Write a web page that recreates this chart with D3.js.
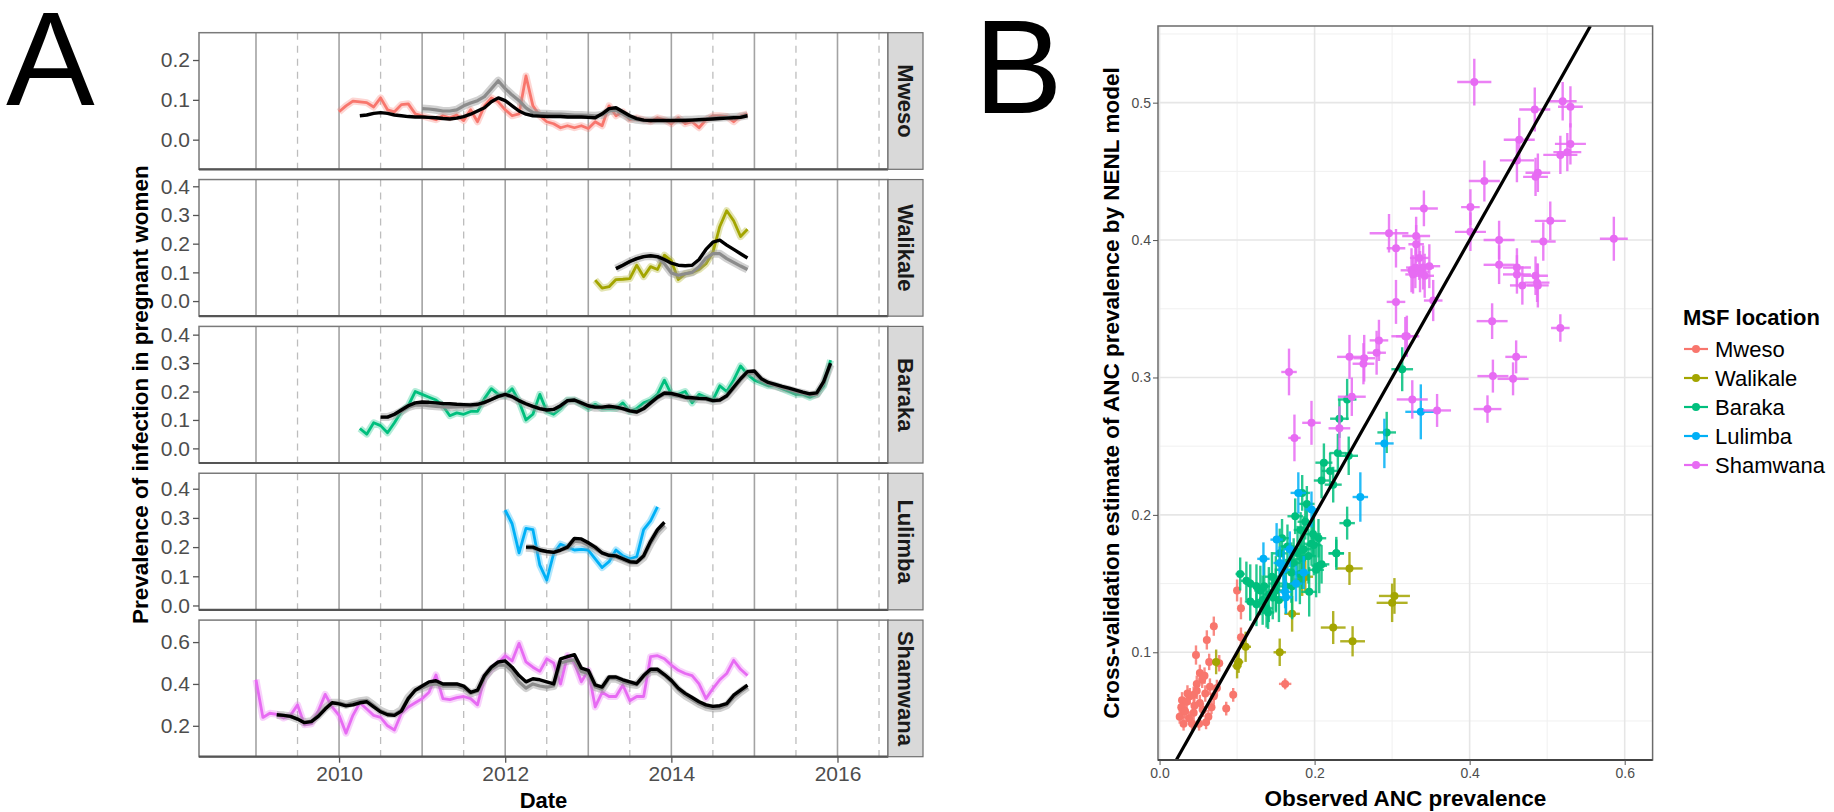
<!DOCTYPE html>
<html>
<head>
<meta charset="utf-8">
<script src="https://cdn.jsdelivr.net/npm/d3@7"></script>
<style>
  html, body { margin: 0; padding: 0; background: #fff; }
  svg { display: block; font-family: "Liberation Sans", Arial, Helvetica, sans-serif; }
</style>
</head>
<body>
<svg id="fig" width="1834" height="812"></svg>
<script>
// ---------- shared categories ----------
const locations = ["Mweso", "Walikale", "Baraka", "Lulimba", "Shamwana"];
const locColors = ["#F8766D", "#A3A500", "#00BF7D", "#00B0F6", "#E76BF3"];

// ---------- panel A: monthly prevalence series ----------
// each series: first month [year, month] and the monthly values that follow
const mwesoObsStart = [2010, 1];
const mwesoObs = [0.070,0.085,0.097,0.095,0.093,0.082,0.105,0.075,0.070,0.088,0.090,0.065,
                  0.060,0.055,0.050,0.060,0.055,0.062,0.048,0.075,0.045,0.085,0.105,0.095,
                  0.075,0.060,0.065,0.160,0.085,0.060,0.045,0.040,0.030,0.035,0.030,0.035,
                  0.028,0.045,0.035,0.085,0.060,0.070,0.050,0.055,0.050,0.045,0.055,0.050,
                  0.040,0.055,0.040,0.045,0.030,0.050,0.060,0.060,0.058,0.045,0.060,0.065];
const mwesoGreyStart = [2011, 1];
const mwesoGrey = [0.078,0.077,0.075,0.072,0.072,0.075,0.085,0.092,0.098,0.108,0.128,0.148,
                   0.128,0.112,0.098,0.080,0.068,0.066,0.065,0.064,0.064,0.063,0.062,0.062,
                   0.061,0.060,0.062,0.072,0.074,0.064,0.054,0.050,0.048,0.048,0.048,0.048,
                   0.048,0.049,0.050,0.050,0.051,0.052,0.054,0.055,0.056,0.057,0.058,0.061];
const mwesoFitStart = [2010, 4];
const mwesoFit = [0.060,0.062,0.066,0.068,0.066,0.062,0.060,0.058,0.057,
                  0.057,0.056,0.055,0.053,0.052,0.054,0.058,0.064,0.072,0.080,0.095,0.105,
                  0.098,0.085,0.072,0.064,0.060,0.059,0.058,0.058,0.058,0.057,0.057,0.057,
                  0.056,0.055,0.065,0.078,0.080,0.070,0.060,0.053,0.049,0.048,0.048,0.048,
                  0.048,0.048,0.048,0.049,0.050,0.051,0.052,0.053,0.054,0.055,0.056,0.060];

const walikaleObsStart = [2013, 2];
const walikaleObs = [0.073,0.045,0.050,0.075,0.076,0.078,0.125,0.085,0.120,0.110,0.160,
                     0.140,0.075,0.095,0.100,0.110,0.130,0.170,0.260,0.315,0.280,0.225,0.250];
const walikaleGreyStart = [2013, 5];
const walikaleGrey = [0.113,0.125,0.138,0.148,0.155,0.157,0.153,0.130,
                      0.098,0.090,0.095,0.100,0.120,0.150,0.165,0.165,0.148,0.135,0.122,0.110];
const walikaleFitStart = [2013, 5];
const walikaleFit = [0.113,0.125,0.138,0.148,0.155,0.158,0.155,0.145,
                     0.132,0.125,0.123,0.125,0.145,0.180,0.205,0.212,0.195,0.180,0.165,0.150];

const barakaObsStart = [2010, 4];
const barakaObs = [0.070,0.050,0.090,0.080,0.055,0.090,0.130,0.150,0.200,
                   0.190,0.180,0.170,0.150,0.115,0.125,0.120,0.130,0.130,0.175,0.210,0.190,
                   0.185,0.210,0.165,0.100,0.120,0.190,0.130,0.120,0.140,0.170,0.170,0.155,
                   0.140,0.155,0.140,0.140,0.140,0.160,0.130,0.140,0.160,0.170,0.190,0.240,
                   0.190,0.190,0.200,0.160,0.190,0.180,0.170,0.220,0.200,0.240,0.290,0.260,
                   0.240,0.230,0.220,0.220,0.210,0.200,0.190,0.190,0.180,0.190,0.220,0.310];
const barakaGreyStart = [2010, 7];
const barakaGrey = [0.110,0.110,0.118,0.130,0.145,0.152,
                    0.153,0.150,0.148,0.146,0.145,0.146,0.147,0.148,0.152,0.160,0.172,0.183,
                    0.186,0.180,0.166,0.155,0.146,0.139,0.135,0.138,0.150,0.166,0.168,0.158,
                    0.148,0.143,0.143,0.146,0.143,0.138,0.131,0.127,0.138,0.158,0.177,0.190,
                    0.188,0.183,0.177,0.175,0.173,0.172,0.166,0.168,0.182,0.210,0.240,0.265,
                    0.265,0.240,0.228,0.220,0.213,0.207,0.200,0.194,0.188,0.190,0.230,0.295];
const barakaFitStart = [2010, 7];
const barakaFit = [0.110,0.110,0.120,0.135,0.150,0.160,
                   0.163,0.162,0.160,0.158,0.157,0.155,0.154,0.153,0.155,0.162,0.172,0.183,
                   0.190,0.182,0.168,0.157,0.148,0.140,0.135,0.137,0.150,0.168,0.170,0.160,
                   0.150,0.145,0.145,0.148,0.145,0.140,0.132,0.128,0.140,0.160,0.180,0.195,
                   0.193,0.187,0.180,0.178,0.176,0.175,0.168,0.170,0.185,0.215,0.245,0.270,
                   0.272,0.245,0.232,0.225,0.218,0.212,0.205,0.198,0.192,0.195,0.235,0.300];

const lulimbaObsStart = [2012, 1];
const lulimbaObs = [0.327,0.280,0.180,0.264,0.260,0.138,0.087,0.178,0.210,0.200,0.190,0.192,
                    0.190,0.160,0.130,0.150,0.190,0.170,0.160,0.167,0.260,0.290,0.338];
const lulimbaGreyStart = [2012, 4];
const lulimbaGrey = [0.198,0.196,0.188,0.184,0.182,0.188,0.196,0.220,0.218,0.206,0.194,0.178,
                     0.170,0.166,0.156,0.146,0.146,0.165,0.212,0.250,0.275];
const lulimbaFitStart = [2012, 4];
const lulimbaFit = [0.200,0.200,0.190,0.185,0.182,0.190,0.200,0.230,0.228,0.215,0.200,0.180,
                    0.172,0.170,0.160,0.150,0.148,0.170,0.220,0.260,0.285];

const shamwanaObsStart = [2009, 1];
const shamwanaObs = [0.420,0.240,0.260,0.255,0.237,0.250,0.300,0.205,0.210,0.270,0.350,0.290,
                     0.250,0.165,0.250,0.310,0.280,0.250,0.240,0.200,0.180,0.260,0.290,0.310,
                     0.330,0.360,0.443,0.330,0.325,0.335,0.340,0.330,0.300,0.430,0.470,0.500,
                     0.535,0.510,0.594,0.505,0.480,0.460,0.520,0.500,0.400,0.536,0.500,0.410,
                     0.465,0.290,0.360,0.340,0.340,0.395,0.320,0.340,0.340,0.530,0.535,0.520,
                     0.490,0.465,0.450,0.440,0.400,0.330,0.378,0.420,0.450,0.513,0.470,0.440];
const shamwanaGreyStart = [2009, 4];
const shamwanaGrey = [0.252,0.250,0.245,0.232,0.217,0.222,0.250,0.285,0.310,
                      0.310,0.300,0.310,0.318,0.322,0.298,0.272,0.258,0.255,0.275,0.335,0.370,
                      0.380,0.395,0.400,0.390,0.390,0.390,0.380,0.355,0.365,0.430,0.470,0.490,
                      0.490,0.460,0.410,0.380,0.400,0.390,0.385,0.390,0.500,0.510,0.515,0.460,
                      0.450,0.385,0.375,0.425,0.425,0.410,0.400,0.395,0.435,0.460,0.462,0.440,
                      0.410,0.372,0.345,0.325,0.305,0.290,0.283,0.285,0.298,0.335,0.362,0.385];
const shamwanaFitStart = [2009, 4];
const shamwanaFit = [0.253,0.250,0.245,0.232,0.215,0.220,0.245,0.280,0.310,
                     0.305,0.295,0.300,0.310,0.315,0.290,0.267,0.253,0.250,0.270,0.330,0.370,
                     0.390,0.410,0.415,0.400,0.400,0.400,0.390,0.360,0.370,0.440,0.480,0.505,
                     0.510,0.480,0.440,0.410,0.425,0.420,0.410,0.400,0.520,0.530,0.540,0.475,
                     0.465,0.395,0.385,0.433,0.433,0.420,0.410,0.400,0.440,0.470,0.470,0.445,
                     0.417,0.380,0.355,0.335,0.315,0.300,0.293,0.296,0.306,0.346,0.370,0.394];

const yDomainsA = [[-0.0744, 0.2686], [-0.0526, 0.4235], [-0.0514, 0.429], [-0.015, 0.453], [0.0524, 0.705]];
const yTicksA = [[0, 0.1, 0.2], [0, 0.1, 0.2, 0.3, 0.4], [0, 0.1, 0.2, 0.3, 0.4], [0, 0.1, 0.2, 0.3, 0.4], [0.2, 0.4, 0.6]];
const xTicksA = [2010, 2012, 2014, 2016];
const yearLines = [2009, 2010, 2011, 2012, 2013, 2014, 2015, 2016];
const halfYearLines = [2009.5, 2010.5, 2011.5, 2012.5, 2013.5, 2014.5, 2015.5, 2016.5];

// ---------- panel B: observed vs cross-validated estimate [obs, est, obsErr, estErr] ----------
const mwesoPts = [
  [0.100,0.145,0.003,0.008],[0.105,0.132,0.003,0.008],[0.070,0.119,0.003,0.007],[0.061,0.109,0.003,0.007],
  [0.047,0.098,0.003,0.007],[0.105,0.111,0.003,0.007],[0.064,0.093,0.003,0.006],[0.077,0.092,0.003,0.006],
  [0.052,0.085,0.003,0.006],[0.162,0.077,0.008,0.004],[0.095,0.069,0.003,0.005],[0.055,0.080,0.003,0.006],
  [0.065,0.075,0.003,0.006],[0.048,0.077,0.003,0.006],[0.039,0.068,0.003,0.006],[0.029,0.065,0.003,0.006],
  [0.031,0.058,0.003,0.006],[0.044,0.056,0.003,0.006],[0.052,0.063,0.003,0.006],[0.059,0.070,0.003,0.006],
  [0.067,0.060,0.003,0.005],[0.086,0.059,0.003,0.005],[0.063,0.053,0.003,0.005],[0.031,0.048,0.003,0.005],
  [0.042,0.048,0.003,0.005],[0.051,0.048,0.003,0.005],[0.060,0.049,0.003,0.005],[0.035,0.064,0.003,0.006],
  [0.044,0.069,0.003,0.006],[0.070,0.068,0.003,0.006],[0.028,0.060,0.003,0.006],[0.038,0.052,0.003,0.005],
  [0.056,0.058,0.003,0.005],[0.048,0.072,0.003,0.006],[0.058,0.083,0.003,0.006],[0.036,0.070,0.003,0.006],
  [0.026,0.053,0.003,0.005],[0.074,0.074,0.003,0.006],[0.045,0.061,0.003,0.006],[0.033,0.057,0.003,0.005]
];
const walikalePts = [
  [0.245,0.161,0.017,0.012],[0.303,0.141,0.020,0.013],[0.300,0.136,0.020,0.014],[0.224,0.118,0.016,0.012],
  [0.249,0.108,0.016,0.011],[0.171,0.128,0.010,0.013],[0.155,0.100,0.008,0.010],[0.111,0.104,0.007,0.011],
  [0.102,0.093,0.006,0.008],[0.100,0.090,0.006,0.009],[0.073,0.093,0.005,0.009],[0.188,0.155,0.010,0.012],
  [0.184,0.153,0.010,0.012]
];
const barakaPts = [
  [0.313,0.306,0.014,0.016],[0.242,0.284,0.012,0.015],[0.232,0.270,0.012,0.014],[0.293,0.260,0.012,0.015],
  [0.230,0.245,0.011,0.014],[0.244,0.243,0.012,0.014],[0.212,0.238,0.011,0.014],[0.220,0.232,0.011,0.013],
  [0.209,0.225,0.010,0.013],[0.224,0.222,0.011,0.013],[0.184,0.216,0.010,0.013],[0.190,0.208,0.010,0.013],
  [0.175,0.199,0.010,0.013],[0.188,0.195,0.010,0.013],[0.242,0.194,0.010,0.012],[0.182,0.189,0.009,0.013],
  [0.158,0.183,0.009,0.014],[0.205,0.183,0.010,0.014],[0.196,0.179,0.010,0.016],[0.228,0.172,0.010,0.012],
  [0.206,0.163,0.010,0.020],[0.165,0.177,0.009,0.016],[0.173,0.165,0.009,0.018],[0.104,0.157,0.006,0.012],
  [0.117,0.150,0.007,0.014],[0.130,0.145,0.008,0.018],[0.135,0.148,0.008,0.020],[0.140,0.129,0.008,0.012],
  [0.117,0.137,0.007,0.014],[0.125,0.135,0.008,0.016],[0.133,0.138,0.008,0.018],[0.141,0.142,0.008,0.020],
  [0.154,0.138,0.009,0.016],[0.150,0.150,0.009,0.020],[0.171,0.148,0.009,0.024],[0.193,0.144,0.010,0.018],
  [0.209,0.164,0.010,0.014],[0.228,0.172,0.010,0.010],[0.199,0.178,0.010,0.022],[0.184,0.168,0.010,0.022],
  [0.178,0.172,0.010,0.020],[0.186,0.175,0.010,0.024],[0.192,0.170,0.010,0.020],[0.160,0.160,0.009,0.018],
  [0.170,0.158,0.009,0.022],[0.150,0.145,0.009,0.016],[0.145,0.155,0.009,0.018],[0.125,0.148,0.008,0.016],
  [0.112,0.152,0.007,0.014],[0.138,0.132,0.008,0.014],[0.155,0.172,0.009,0.018],[0.198,0.186,0.010,0.016],
  [0.202,0.160,0.010,0.020],[0.163,0.148,0.009,0.020],[0.146,0.140,0.008,0.016],[0.181,0.157,0.010,0.022]
];
const lulimbaPts = [
  [0.337,0.275,0.020,0.020],[0.290,0.252,0.012,0.018],[0.259,0.213,0.010,0.018],[0.179,0.216,0.010,0.015],
  [0.196,0.204,0.008,0.013],[0.151,0.182,0.008,0.012],[0.134,0.168,0.008,0.012],[0.160,0.160,0.008,0.014],
  [0.162,0.144,0.008,0.012],[0.186,0.158,0.008,0.012],[0.163,0.140,0.008,0.012],[0.176,0.150,0.008,0.013],
  [0.168,0.175,0.008,0.013],[0.155,0.165,0.008,0.012]
];
const shamwanaPts = [
  [0.406,0.515,0.022,0.017],[0.484,0.495,0.020,0.016],[0.520,0.501,0.018,0.014],[0.530,0.497,0.016,0.015],
  [0.464,0.473,0.020,0.016],[0.530,0.470,0.020,0.015],[0.517,0.462,0.022,0.014],[0.526,0.464,0.018,0.014],
  [0.461,0.458,0.022,0.016],[0.488,0.449,0.016,0.014],[0.485,0.446,0.016,0.014],[0.419,0.443,0.020,0.015],
  [0.341,0.423,0.018,0.013],[0.401,0.424,0.012,0.013],[0.504,0.414,0.020,0.014],[0.401,0.406,0.020,0.014],
  [0.296,0.405,0.025,0.014],[0.331,0.403,0.018,0.014],[0.438,0.400,0.020,0.014],[0.495,0.399,0.016,0.014],
  [0.586,0.401,0.018,0.016],[0.305,0.394,0.012,0.014],[0.331,0.397,0.010,0.014],[0.335,0.387,0.012,0.016],
  [0.325,0.378,0.014,0.016],[0.330,0.380,0.012,0.015],[0.340,0.380,0.014,0.016],[0.348,0.381,0.014,0.016],
  [0.342,0.374,0.012,0.016],[0.327,0.375,0.010,0.014],[0.336,0.377,0.012,0.015],[0.438,0.382,0.020,0.014],
  [0.461,0.380,0.018,0.014],[0.461,0.375,0.018,0.014],[0.485,0.374,0.016,0.014],[0.468,0.367,0.016,0.014],
  [0.488,0.367,0.014,0.016],[0.487,0.369,0.016,0.014],[0.305,0.355,0.012,0.016],[0.353,0.356,0.012,0.015],
  [0.429,0.341,0.020,0.013],[0.517,0.336,0.012,0.010],[0.319,0.330,0.014,0.015],[0.283,0.327,0.012,0.015],
  [0.280,0.318,0.012,0.016],[0.460,0.315,0.014,0.012],[0.245,0.315,0.016,0.016],[0.264,0.314,0.014,0.017],
  [0.263,0.310,0.014,0.015],[0.430,0.301,0.020,0.012],[0.456,0.299,0.020,0.012],[0.167,0.304,0.010,0.017],
  [0.248,0.286,0.018,0.014],[0.326,0.284,0.020,0.014],[0.358,0.276,0.018,0.012],[0.423,0.277,0.018,0.010],
  [0.174,0.256,0.008,0.017],[0.196,0.267,0.012,0.016],[0.232,0.263,0.014,0.016],[0.317,0.330,0.018,0.014]
];
const xTicksB = [0.0, 0.2, 0.4, 0.6];
const yTicksB = [0.1, 0.2, 0.3, 0.4, 0.5];
const xMinorB = [0.1, 0.3, 0.5];
const yMinorB = [0.05, 0.15, 0.25, 0.35, 0.45, 0.55];

// ---------- assemble per-location records ----------
const seriesA = [
  { obs: [mwesoObsStart, mwesoObs], grey: [mwesoGreyStart, mwesoGrey], fit: [mwesoFitStart, mwesoFit] },
  { obs: [walikaleObsStart, walikaleObs], grey: [walikaleGreyStart, walikaleGrey], fit: [walikaleFitStart, walikaleFit] },
  { obs: [barakaObsStart, barakaObs], grey: [barakaGreyStart, barakaGrey], fit: [barakaFitStart, barakaFit] },
  { obs: [lulimbaObsStart, lulimbaObs], grey: [lulimbaGreyStart, lulimbaGrey], fit: [lulimbaFitStart, lulimbaFit] },
  { obs: [shamwanaObsStart, shamwanaObs], grey: [shamwanaGreyStart, shamwanaGrey], fit: [shamwanaFitStart, shamwanaFit] }
];
const pointsB = [mwesoPts, walikalePts, barakaPts, lulimbaPts, shamwanaPts];

function toMonthly(spec) {
  const [start, vals] = spec;
  const t0 = start[0] + (start[1] - 1) / 12;
  return vals.map((v, i) => ({ t: t0 + i / 12, v }));
}

const svg = d3.select("#fig");
const tickGrey = "#4d4d4d";

// ================= Panel A =================
const A = { left: 199, right: 888, stripW: 35, top0: 32.7, h: 136.6, step: 146.85 };
const xA = d3.scaleLinear().domain([2008.314, 2016.608]).range([A.left, A.right]);

svg.append("text").attr("x", 6).attr("y", 105)
  .attr("font-size", 133).attr("fill", "#000").text("A");

locations.forEach((loc, i) => {
  const top = A.top0 + i * A.step;
  const yA = d3.scaleLinear().domain(yDomainsA[i]).range([top + A.h, top]);
  const g = svg.append("g");

  g.append("rect").attr("x", A.left).attr("y", top).attr("width", A.right - A.left).attr("height", A.h)
    .attr("fill", "#fff");

  // year (solid) and half-year (dashed) reference lines
  g.selectAll(".yr").data(yearLines).enter().append("line")
    .attr("x1", d => xA(d)).attr("x2", d => xA(d)).attr("y1", top).attr("y2", top + A.h)
    .attr("stroke", "#a3a3a3").attr("stroke-width", 1.6);
  g.selectAll(".hy").data(halfYearLines).enter().append("line")
    .attr("x1", d => xA(d)).attr("x2", d => xA(d)).attr("y1", top).attr("y2", top + A.h)
    .attr("stroke", "#bdbdbd").attr("stroke-width", 1.3).attr("stroke-dasharray", "7,6");

  const line = d3.line().x(d => xA(d.t)).y(d => yA(d.v));
  const s = seriesA[i];
  const obs = toMonthly(s.obs), grey = toMonthly(s.grey), fit = toMonthly(s.fit);

  // uncertainty halos, then the lines themselves
  g.append("path").datum(obs).attr("d", line).attr("fill", "none")
    .attr("stroke", locColors[i]).attr("stroke-opacity", 0.3).attr("stroke-width", 7)
    .attr("stroke-linejoin", "round");
  g.append("path").datum(obs).attr("d", line).attr("fill", "none")
    .attr("stroke", locColors[i]).attr("stroke-width", 2.8).attr("stroke-linejoin", "round");
  g.append("path").datum(grey).attr("d", line).attr("fill", "none")
    .attr("stroke", "#9a9a9a").attr("stroke-opacity", 0.45).attr("stroke-width", 8)
    .attr("stroke-linejoin", "round");
  g.append("path").datum(grey).attr("d", line).attr("fill", "none")
    .attr("stroke", "#8c8c8c").attr("stroke-width", 3.2).attr("stroke-linejoin", "round");
  g.append("path").datum(fit).attr("d", line).attr("fill", "none")
    .attr("stroke", "#000").attr("stroke-width", 3.4).attr("stroke-linejoin", "round");

  // panel frame
  g.append("rect").attr("x", A.left).attr("y", top).attr("width", A.right - A.left).attr("height", A.h)
    .attr("fill", "none").attr("stroke", "#7a7a7a").attr("stroke-width", 1.5);
  g.append("line").attr("x1", A.left).attr("x2", A.right).attr("y1", top + A.h).attr("y2", top + A.h)
    .attr("stroke", "#555").attr("stroke-width", 2.2);

  // strip
  g.append("rect").attr("x", A.right).attr("y", top).attr("width", A.stripW).attr("height", A.h)
    .attr("fill", "#d9d9d9").attr("stroke", "#6e6e6e").attr("stroke-width", 1.2);
  g.append("text")
    .attr("transform", `translate(${A.right + A.stripW / 2},${top + A.h / 2}) rotate(90)`)
    .attr("text-anchor", "middle").attr("dominant-baseline", "central")
    .attr("font-size", 22).attr("font-weight", "bold").attr("fill", "#1a1a1a").text(loc);

  // y axis
  const ax = g.append("g").attr("transform", `translate(${A.left},0)`)
    .call(d3.axisLeft(yA).tickValues(yTicksA[i]).tickFormat(d3.format(".1f")).tickSize(6).tickPadding(3));
  ax.select(".domain").remove();
  ax.selectAll(".tick line").attr("stroke", "#555").attr("stroke-width", 1.3);
  ax.selectAll(".tick text").attr("font-size", 21).attr("fill", tickGrey)
    .attr("font-family", "'Liberation Sans', Arial, sans-serif");

  if (i === locations.length - 1) {
    const bx = g.append("g").attr("transform", `translate(0,${top + A.h})`)
      .call(d3.axisBottom(xA).tickValues(xTicksA).tickFormat(d3.format("d")).tickSize(6).tickPadding(3));
    bx.select(".domain").remove();
    bx.selectAll(".tick line").attr("stroke", "#555").attr("stroke-width", 1.3);
    bx.selectAll(".tick text").attr("font-size", 21).attr("fill", tickGrey)
      .attr("font-family", "'Liberation Sans', Arial, sans-serif");
  }
});

svg.append("text").attr("x", (A.left + A.right) / 2).attr("y", 808)
  .attr("text-anchor", "middle").attr("font-size", 22).attr("font-weight", "bold").attr("fill", "#000")
  .text("Date");
svg.append("text")
  .attr("transform", `translate(148,${(A.top0 + 4 * A.step + A.h + A.top0) / 2}) rotate(-90)`)
  .attr("text-anchor", "middle").attr("font-size", 22.5).attr("font-weight", "bold").attr("fill", "#000")
  .text("Prevalence of infection in pregnant women");

// ================= Panel B =================
const B = { left: 1158, right: 1652.6, top: 26, bottom: 760 };
const xB = d3.scaleLinear().domain([-0.002, 0.636]).range([B.left, B.right]);
const yB = d3.scaleLinear().domain([0.0216, 0.5558]).range([B.bottom, B.top]);

svg.append("text").attr("x", 974).attr("y", 113)
  .attr("font-size", 133).attr("fill", "#000").text("B");

const gb = svg.append("g");
gb.append("rect").attr("x", B.left).attr("y", B.top).attr("width", B.right - B.left).attr("height", B.bottom - B.top)
  .attr("fill", "#fff");
// minor then major grid
gb.selectAll(".xm").data(xMinorB).enter().append("line")
  .attr("x1", d => xB(d)).attr("x2", d => xB(d)).attr("y1", B.top).attr("y2", B.bottom)
  .attr("stroke", "#f0f0f0").attr("stroke-width", 1);
gb.selectAll(".ym").data(yMinorB).enter().append("line")
  .attr("y1", d => yB(d)).attr("y2", d => yB(d)).attr("x1", B.left).attr("x2", B.right)
  .attr("stroke", "#f0f0f0").attr("stroke-width", 1);
gb.selectAll(".xg").data(xTicksB).enter().append("line")
  .attr("x1", d => xB(d)).attr("x2", d => xB(d)).attr("y1", B.top).attr("y2", B.bottom)
  .attr("stroke", "#e6e6e6").attr("stroke-width", 1.6);
gb.selectAll(".yg").data(yTicksB).enter().append("line")
  .attr("y1", d => yB(d)).attr("y2", d => yB(d)).attr("x1", B.left).attr("x2", B.right)
  .attr("stroke", "#e6e6e6").attr("stroke-width", 1.6);

// clip for marks
svg.append("defs").append("clipPath").attr("id", "clipB")
  .append("rect").attr("x", B.left).attr("y", B.top).attr("width", B.right - B.left).attr("height", B.bottom - B.top);
const marks = gb.append("g").attr("clip-path", "url(#clipB)");

pointsB.forEach((pts, i) => {
  const col = locColors[i];
  const grp = marks.append("g");
  grp.selectAll(".eh").data(pts).enter().append("line")
    .attr("x1", d => xB(d[0] - d[2])).attr("x2", d => xB(d[0] + d[2]))
    .attr("y1", d => yB(d[1])).attr("y2", d => yB(d[1]))
    .attr("stroke", col).attr("stroke-width", 2.4).attr("stroke-opacity", 0.85);
  grp.selectAll(".ev").data(pts).enter().append("line")
    .attr("x1", d => xB(d[0])).attr("x2", d => xB(d[0]))
    .attr("y1", d => yB(d[1] - d[3])).attr("y2", d => yB(d[1] + d[3]))
    .attr("stroke", col).attr("stroke-width", 2.4).attr("stroke-opacity", 0.85);
  grp.selectAll("circle").data(pts).enter().append("circle")
    .attr("cx", d => xB(d[0])).attr("cy", d => yB(d[1])).attr("r", 4)
    .attr("fill", col);
});

// identity line
const idLine = [0.0216, 0.5558];
marks.append("line")
  .attr("x1", xB(idLine[0])).attr("y1", yB(idLine[0]))
  .attr("x2", xB(idLine[1])).attr("y2", yB(idLine[1]))
  .attr("stroke", "#000").attr("stroke-width", 3.2);

gb.append("rect").attr("x", B.left).attr("y", B.top).attr("width", B.right - B.left).attr("height", B.bottom - B.top)
  .attr("fill", "none").attr("stroke", "#6b6b6b").attr("stroke-width", 1.5);
gb.append("line").attr("x1", B.left).attr("x2", B.right).attr("y1", B.bottom).attr("y2", B.bottom)
  .attr("stroke", "#444").attr("stroke-width", 2);

const axL = gb.append("g").attr("transform", `translate(${B.left},0)`)
  .call(d3.axisLeft(yB).tickValues(yTicksB).tickFormat(d3.format(".1f")).tickSize(5).tickPadding(2));
axL.select(".domain").remove();
axL.selectAll(".tick line").attr("stroke", "#555");
axL.selectAll(".tick text").attr("font-size", 14).attr("fill", tickGrey)
  .attr("font-family", "'Liberation Sans', Arial, sans-serif");
const axBt = gb.append("g").attr("transform", `translate(0,${B.bottom})`)
  .call(d3.axisBottom(xB).tickValues(xTicksB).tickFormat(d3.format(".1f")).tickSize(5).tickPadding(3));
axBt.select(".domain").remove();
axBt.selectAll(".tick line").attr("stroke", "#555");
axBt.selectAll(".tick text").attr("font-size", 14).attr("fill", tickGrey)
  .attr("font-family", "'Liberation Sans', Arial, sans-serif");

svg.append("text").attr("x", (B.left + B.right) / 2).attr("y", 806)
  .attr("text-anchor", "middle").attr("font-size", 22.5).attr("font-weight", "bold").attr("fill", "#000")
  .text("Observed ANC prevalence");
svg.append("text")
  .attr("transform", `translate(1119,${(B.top + B.bottom) / 2}) rotate(-90)`)
  .attr("text-anchor", "middle").attr("font-size", 22.5).attr("font-weight", "bold").attr("fill", "#000")
  .text("Cross-validation estimate of ANC prevalence by NENL model");

// legend
const lg = svg.append("g").attr("transform", "translate(1683,0)");
lg.append("text").attr("x", 0).attr("y", 325).attr("font-size", 22).attr("font-weight", "bold")
  .attr("fill", "#000").text("MSF location");
locations.forEach((loc, i) => {
  const cy = 349 + i * 29;
  lg.append("line").attr("x1", 1).attr("x2", 25).attr("y1", cy).attr("y2", cy)
    .attr("stroke", locColors[i]).attr("stroke-width", 2.2);
  lg.append("circle").attr("cx", 13).attr("cy", cy).attr("r", 4).attr("fill", locColors[i]);
  lg.append("text").attr("x", 32).attr("y", cy + 8).attr("font-size", 22).attr("fill", "#000").text(loc);
});
</script>
</body>
</html>
